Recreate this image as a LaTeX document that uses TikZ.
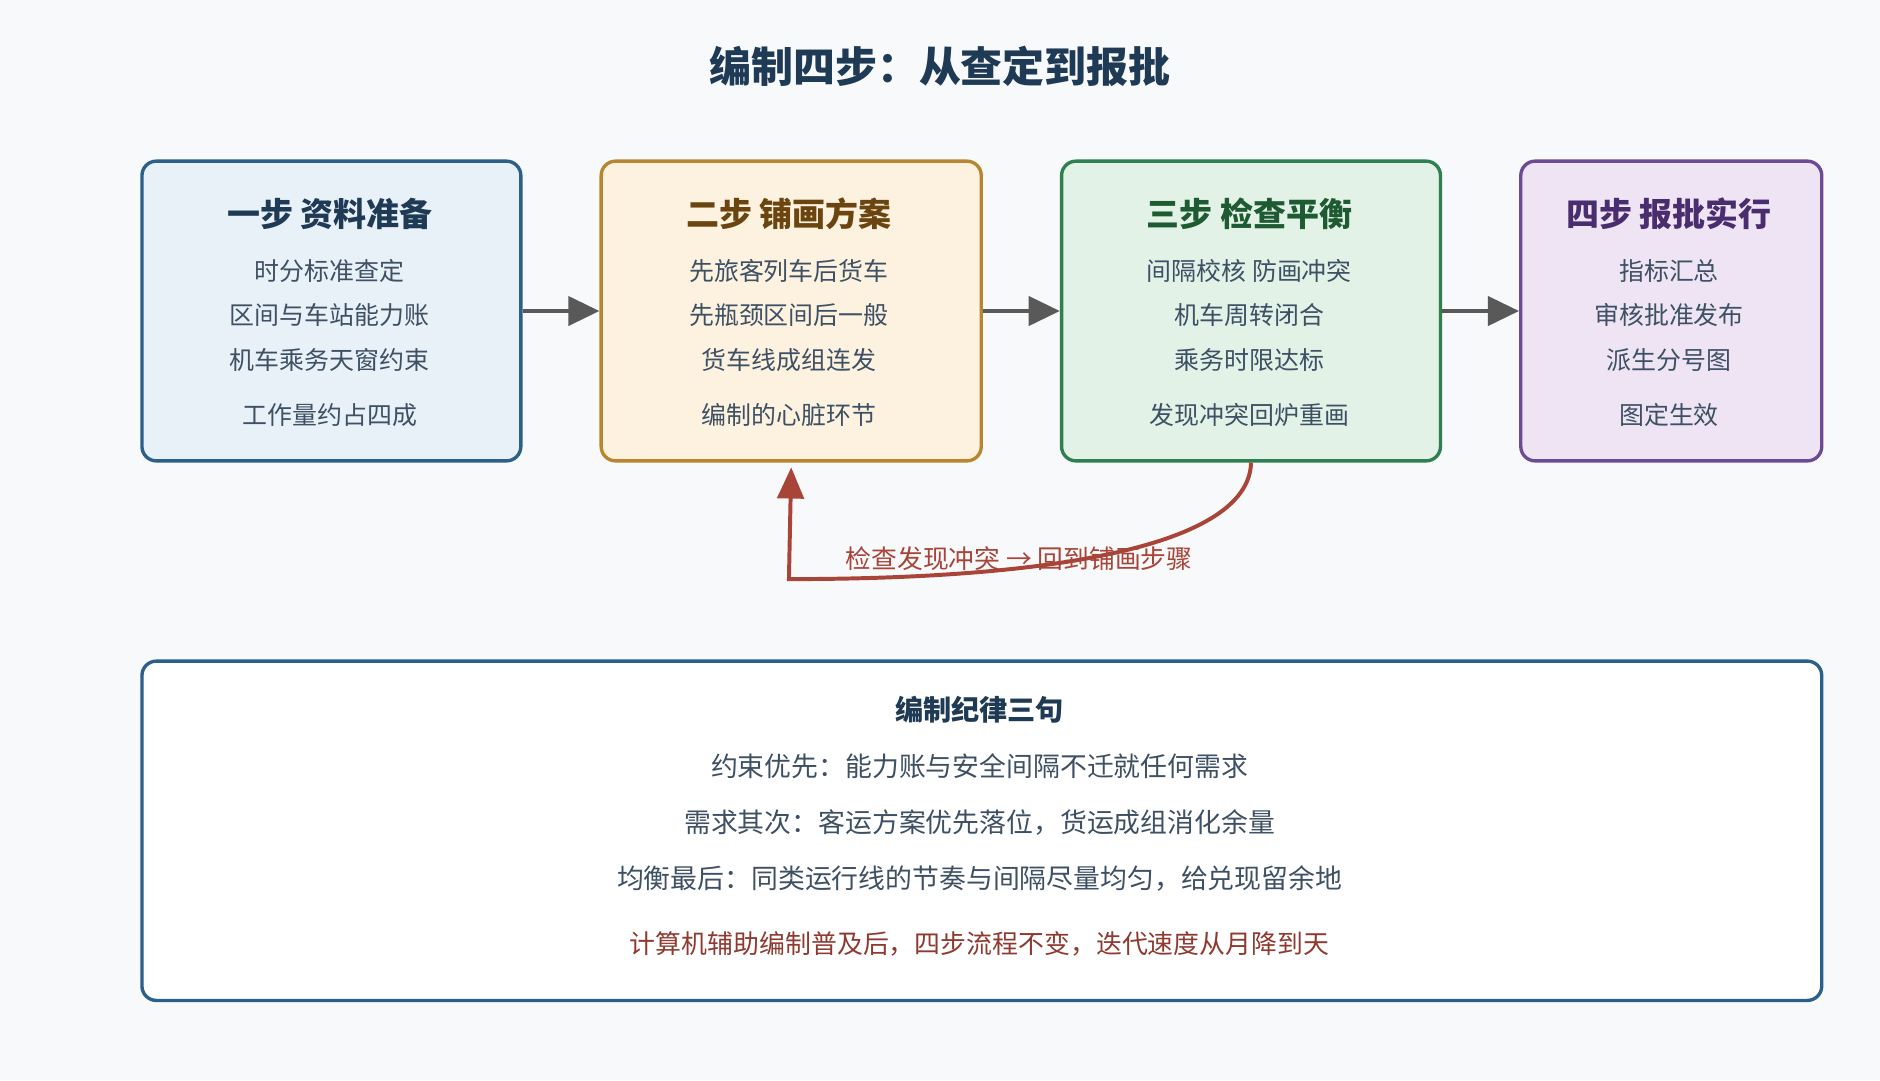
\documentclass[tikz,border=0pt]{standalone}
\usepackage{fontspec}
\setmainfont{Noto Sans CJK SC}
\usetikzlibrary{arrows.meta}
\definecolor{bg}{HTML}{F7F9FB}
\definecolor{ttl}{HTML}{1F3A55}
\definecolor{bodyc}{HTML}{3E5064}
\definecolor{redc}{HTML}{A84438}
\definecolor{fa}{HTML}{E8F0F8}\definecolor{ba}{HTML}{2C5F8A}\definecolor{ta}{HTML}{1F3A55}
\definecolor{fb}{HTML}{FDF2E0}\definecolor{bb}{HTML}{B8862E}\definecolor{tb}{HTML}{6B4510}
\definecolor{fc}{HTML}{E2F2E6}\definecolor{bc}{HTML}{2E8050}\definecolor{tc}{HTML}{1E5A32}
\definecolor{fd}{HTML}{EEE4F4}\definecolor{bd}{HTML}{6C4A94}\definecolor{td}{HTML}{4A2D6E}
\tikzset{
 box/.style={draw, line width=2.8pt, rounded corners=12pt, anchor=north west, inner sep=0},
 bt/.style={font=\fontsize{27.5}{32}\selectfont\bfseries},
 bl/.style={font=\fontsize{20.8}{24}\selectfont, text=bodyc},
 fl/.style={font=\fontsize{22.4}{26}\selectfont},
 flow/.style={draw=black!65, line width=4pt, -{Triangle[length=26pt,width=24pt]}},
}
\begin{document}
\begin{tikzpicture}[x=1pt,y=-1pt]
\fill[bg] (0,0) rectangle (1568,901);
\useasboundingbox (0,0) rectangle (1568,901);
\node[font=\fontsize{35}{40}\selectfont\bfseries, text=ttl] (title) at (784,55) {编制四步：从查定到报批};
\node[box, draw=ba, fill=fa, minimum width=316pt, minimum height=250pt] (b1) at (117,133) {};
\node[box, draw=bb, fill=fb, minimum width=317pt, minimum height=250pt] (b2) at (500,133) {};
\node[box, draw=bc, fill=fc, minimum width=316pt, minimum height=250pt] (b3) at (884,133) {};
\node[box, draw=bd, fill=fd, minimum width=251pt, minimum height=250pt] (b4) at (1267,133) {};
\foreach \n/\x/\c/\t/\a/\b/\cc/\d in {
 1/275/ta/一步 资料准备/时分标准查定/区间与车站能力账/机车乘务天窗约束/工作量约占四成,
 2/658/tb/二步 铺画方案/先旅客列车后货车/先瓶颈区间后一般/货车线成组连发/编制的心脏环节,
 3/1042/tc/三步 检查平衡/间隔校核 防画冲突/机车周转闭合/乘务时限达标/发现冲突回炉重画,
 4/1392/td/四步 报批实行/指标汇总/审核批准发布/派生分号图/图定生效}{
 \node[bt, text=\c] (h\n) at (\x,178) {\t};
 \node[bl] (l\n a) at (\x,226) {\a};
 \node[bl] (l\n b) at (\x,263) {\b};
 \node[bl] (l\n c) at (\x,300) {\cc};
 \node[bl] (l\n d) at (\x,346) {\d};
}
\draw[flow] (b1.east) -- (b2.west);
\draw[flow] (b2.east) -- (b3.west);
\draw[flow] (b3.east) -- (b4.west);
\coordinate (fb1) at (658,483);
\draw[redc, line width=3.3pt, -{Triangle[length=26pt,width=22pt]}] (b3.south) .. controls (1042,450) and (900,483) .. (fb1) -- ([yshift=-4pt]b2.south);
\node[font=\fontsize{21.5}{25}\selectfont, text=redc] (fbl) at (850,466) {检查发现冲突 → 回到铺画步骤};
\node[box, draw=ba, fill=white, minimum width=1401pt, minimum height=283pt] (bot) at (117,550) {};
\node[font=\fontsize{23.5}{28}\selectfont\bfseries, text=ttl] (bt) at (817,592) {编制纪律三句};
\node[fl, text=bodyc] (r1) at (817,639) {约束优先：能力账与安全间隔不迁就任何需求};
\node[fl, text=bodyc] (r2) at (817,686) {需求其次：客运方案优先落位，货运成组消化余量};
\node[fl, text=bodyc] (r3) at (817,733) {均衡最后：同类运行线的节奏与间隔尽量均匀，给兑现留余地};
\node[font=\fontsize{21.6}{25}\selectfont, text=redc!85!black] (r4) at (817,787) {计算机辅助编制普及后，四步流程不变，迭代速度从月降到天};
\end{tikzpicture}
\end{document}
